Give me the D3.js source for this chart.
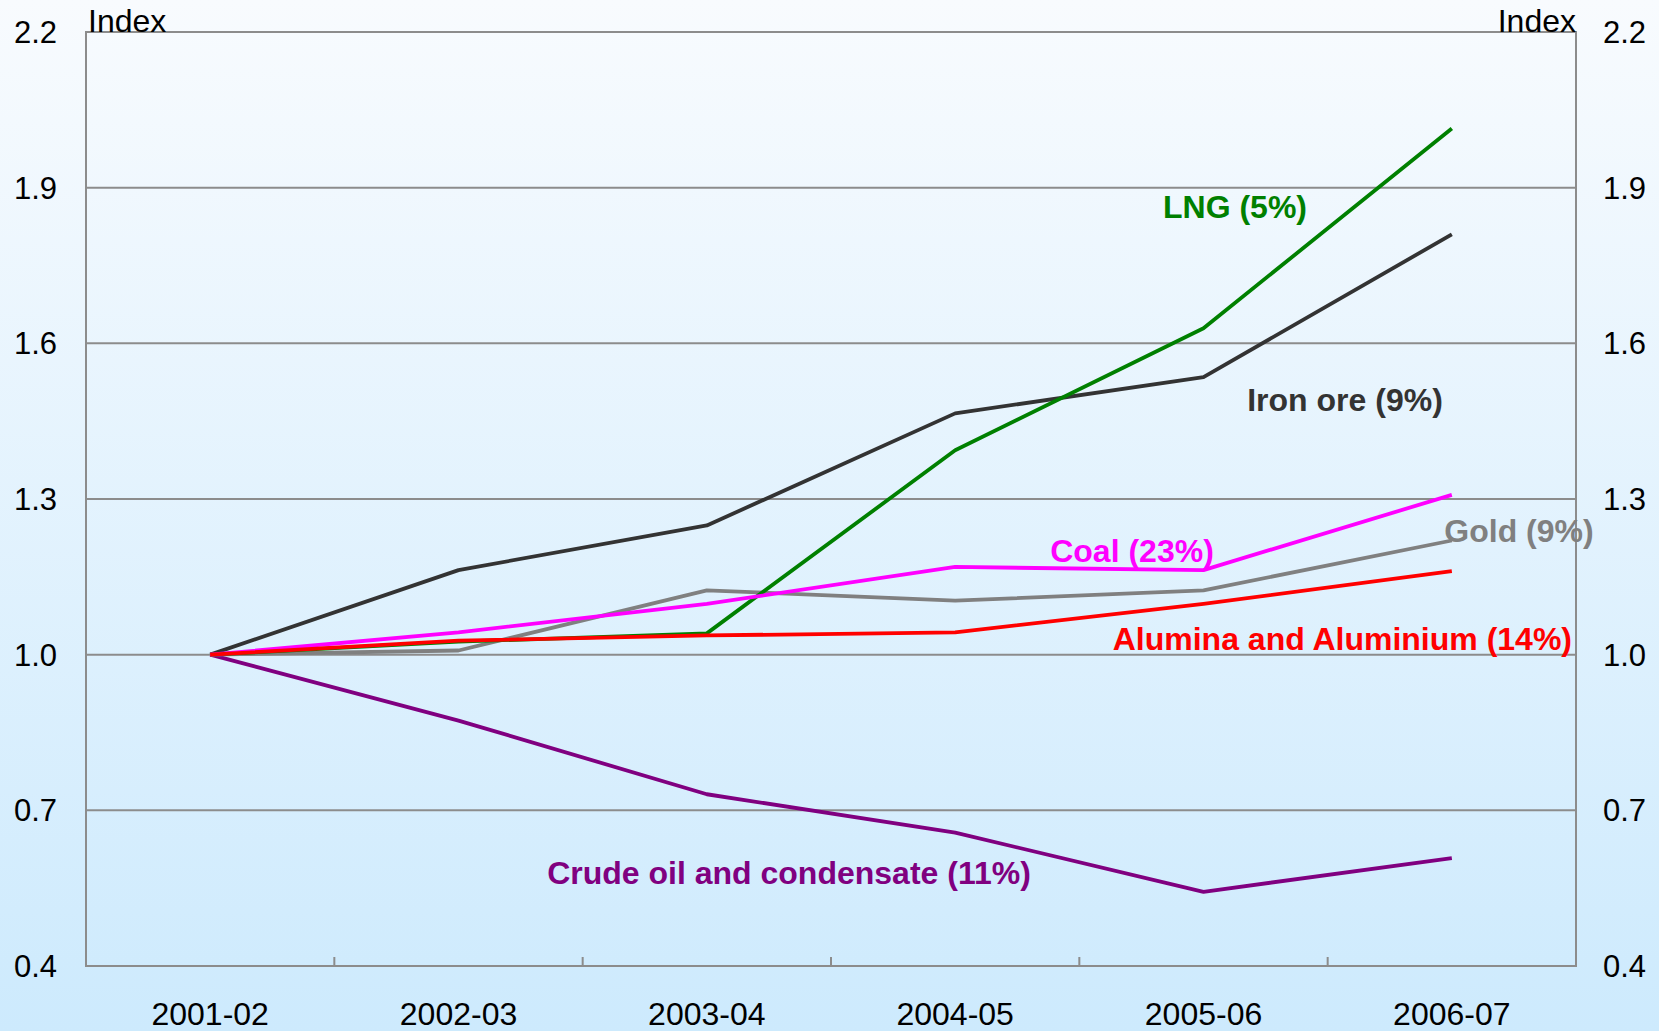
<!DOCTYPE html>
<html>
<head>
<meta charset="utf-8">
<script src="https://d3js.org/d3.v7.min.js"></script>
<style>
  body { margin: 0; background: #fff; }
  svg { display: block; font-family: Arial, "Liberation Sans", sans-serif; }
</style>
</head>
<body>
<svg id="chart"></svg>
<script>
  var years = ["2001-02", "2002-03", "2003-04", "2004-05", "2005-06", "2006-07"];
  var yTicks = [0.4, 0.7, 1.0, 1.3, 1.6, 1.9, 2.2];

  var crudeOil = [1.0, 0.873, 0.731, 0.657, 0.543, 0.608];
  var gold     = [1.0, 1.008, 1.124, 1.104, 1.124, 1.220];
  var ironOre  = [1.0, 1.163, 1.249, 1.465, 1.535, 1.810];
  var lng      = [1.0, 1.025, 1.041, 1.394, 1.629, 2.014];
  var coal     = [1.0, 1.043, 1.098, 1.169, 1.163, 1.308];
  var alumina  = [1.0, 1.027, 1.037, 1.043, 1.098, 1.161];

  var seriesNames = ["Crude oil and condensate (11%)", "Gold (9%)", "Iron ore (9%)", "LNG (5%)", "Coal (23%)", "Alumina and Aluminium (14%)"];
  var seriesValues = [crudeOil, gold, ironOre, lng, coal, alumina];
  var seriesColors = ["#800080", "#808080", "#333333", "#008000", "#ff00ff", "#ff0000"];

  var width = 1659, height = 1031;
  var margin = {top: 32, right: 83, bottom: 65, left: 86};
  var innerW = width - margin.left - margin.right,
      innerH = height - margin.top - margin.bottom;

  var svg = d3.select("#chart")
      .attr("width", width)
      .attr("height", height);

  // background gradient, whole picture
  var grad = svg.append("defs").append("linearGradient")
      .attr("id", "bg").attr("x1", 0).attr("y1", 0).attr("x2", 0).attr("y2", 1);
  grad.append("stop").attr("offset", "0%").attr("stop-color", "#f8fbfe");
  grad.append("stop").attr("offset", "100%").attr("stop-color", "#cdeafd");
  svg.append("rect").attr("width", width).attr("height", height).attr("fill", "url(#bg)");

  var g = svg.append("g")
      .attr("transform", "translate(" + margin.left + "," + margin.top + ")");

  var x = d3.scaleBand().domain(years).range([0, innerW]);
  var y = d3.scaleLinear().domain([0.4, 2.2]).range([innerH, 0]);

  // gridlines
  g.selectAll(".grid")
    .data(yTicks.filter(function(d) { return d > 0.4 && d < 2.2; }))
    .enter().append("line")
      .attr("x1", 0).attr("x2", innerW)
      .attr("y1", function(d) { return y(d); })
      .attr("y2", function(d) { return y(d); })
      .attr("stroke", "#8c8c8c").attr("stroke-width", 2);

  // frame
  g.append("rect")
      .attr("width", innerW).attr("height", innerH)
      .attr("fill", "none").attr("stroke", "#8c8c8c").attr("stroke-width", 2);

  // x ticks at band boundaries (inside)
  g.selectAll(".xtick")
    .data(years.slice(1))
    .enter().append("line")
      .attr("x1", function(d) { return x(d); })
      .attr("x2", function(d) { return x(d); })
      .attr("y1", innerH).attr("y2", innerH - 9)
      .attr("stroke", "#8c8c8c").attr("stroke-width", 2);

  // x labels
  g.selectAll(".xlab")
    .data(years)
    .enter().append("text")
      .attr("x", function(d) { return x(d) + x.bandwidth() / 2; })
      .attr("y", innerH + 59)
      .attr("text-anchor", "middle")
      .style("font-size", "32px")
      .text(function(d) { return d; });

  // y labels, both sides
  var fmt = d3.format(".1f");
  g.selectAll(".ylabL")
    .data(yTicks)
    .enter().append("text")
      .attr("x", -29).attr("y", function(d) { return y(d); })
      .attr("dy", "0.36em")
      .attr("text-anchor", "end")
      .style("font-size", "31px")
      .text(fmt);
  g.selectAll(".ylabR")
    .data(yTicks)
    .enter().append("text")
      .attr("x", innerW + 27).attr("y", function(d) { return y(d); })
      .attr("dy", "0.36em")
      .attr("text-anchor", "start")
      .style("font-size", "31px")
      .text(fmt);

  g.append("text").attr("x", 2).attr("y", 0)
      .style("font-size", "32px").text("Index");
  g.append("text").attr("x", innerW).attr("y", 0)
      .attr("text-anchor", "end")
      .style("font-size", "32px").text("Index");

  // lines
  var line = d3.line()
      .x(function(d, i) { return x(years[i]) + x.bandwidth() / 2; })
      .y(function(d) { return y(d); });

  g.selectAll(".series")
    .data(seriesValues)
    .enter().append("path")
      .attr("d", line)
      .attr("fill", "none")
      .attr("stroke", function(d, i) { return seriesColors[i]; })
      .attr("stroke-width", 3.8)
      .attr("stroke-linejoin", "round");

  // series labels
  var labelPos = [
    {x: 703, y: 840, anchor: "middle"},
    {x: 1433, y: 498, anchor: "middle"},
    {x: 1259, y: 367, anchor: "middle"},
    {x: 1149, y: 174, anchor: "middle"},
    {x: 1046, y: 518, anchor: "middle"},
    {x: 1486, y: 606, anchor: "end"}
  ];
  g.selectAll(".slab")
    .data(seriesNames)
    .enter().append("text")
      .attr("x", function(d, i) { return labelPos[i].x; })
      .attr("y", function(d, i) { return labelPos[i].y; })
      .attr("dy", "0.36em")
      .attr("text-anchor", function(d, i) { return labelPos[i].anchor; })
      .attr("fill", function(d, i) { return seriesColors[i]; })
      .style("font-size", "32px")
      .style("font-weight", "bold")
      .text(function(d) { return d; });
</script>
</body>
</html>
